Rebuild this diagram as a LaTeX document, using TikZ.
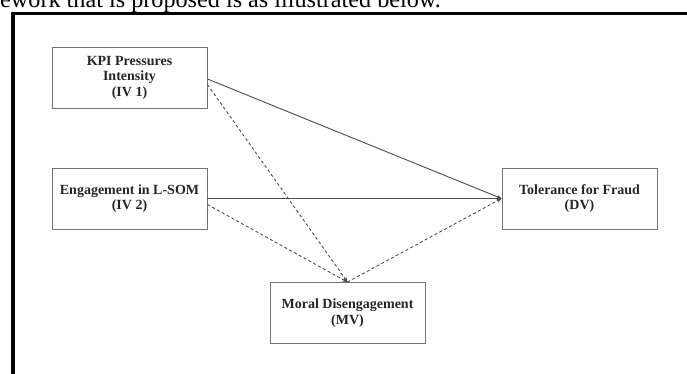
\documentclass[tikz,border=0pt]{standalone}
\usepackage{fontspec}
\setmainfont{Liberation Serif}
\usetikzlibrary{arrows.meta,calc}
\begin{document}
\begin{tikzpicture}[x=1pt,y=-1pt,
  varbox/.style={draw=black!55,line width=0.9pt,fill=white,minimum width=155pt,minimum height=61pt,inner sep=0pt,align=center,
    font=\fontsize{14}{15.5}\selectfont\bfseries,text=black!85},
  link/.style={draw=black!70,line width=0.9pt,-{Stealth[length=5pt,width=4pt]}},
  dlink/.style={link,dash pattern=on 3pt off 2.5pt}]
\useasboundingbox (0,0) rectangle (687,374);
\fill[white] (0,0) rectangle (687,374);
\node[anchor=base west,inner sep=0pt,font=\fontsize{24.2}{26}\selectfont] (cap) at (0,7.5) {ework that is proposed is as illustrated below.};
\draw[line width=3.5pt,line cap=rect] (13,380) -- (13,13.5) -- (690,13.5);
\node[varbox] (kpi) at (129.5,77.5) {KPI Pressures\\Intensity\\(IV 1)};
\node[varbox] (eng) at (129.5,198.5) {Engagement in L-SOM\\(IV 2)};
\node[varbox] (mv) at (347.5,313) {Moral Disengagement\\(MV)};
\node[varbox] (dv) at (579.5,198.5) {Tolerance for Fraud\\(DV)};
\draw[link] ([yshift=-1.5pt]kpi.east) -- (dv.west);
\draw[link] (eng.east) -- (dv.west);
\draw[dlink] ([yshift=-7pt]kpi.east) -- (mv.north);
\draw[dlink] ([yshift=-6pt]eng.east) -- (mv.north);
\draw[dlink] (mv.north) -- (dv.west);
\end{tikzpicture}
\end{document}
